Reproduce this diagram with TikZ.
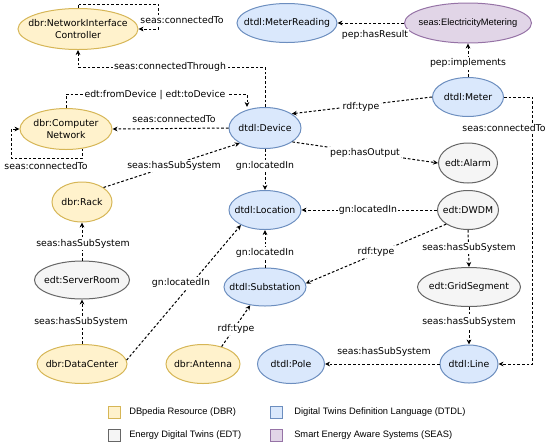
\documentclass[tikz,border=0pt]{standalone}
\usepackage{fontspec}
\setmainfont{DejaVu Sans}
\newfontfamily\arialfont{Liberation Sans}
\usetikzlibrary{shapes.geometric,arrows.meta,calc}
\definecolor{dbrfill}{HTML}{FFF2CC}
\definecolor{dbrdraw}{HTML}{D6B656}
\definecolor{dtdlfill}{HTML}{DAE8FC}
\definecolor{dtdldraw}{HTML}{6C8EBF}
\definecolor{edtfill}{HTML}{F5F5F5}
\definecolor{edtdraw}{HTML}{666666}
\definecolor{seasfill}{HTML}{E1D5E7}
\definecolor{seasdraw}{HTML}{9673A6}
\begin{document}
\begin{tikzpicture}[x=0.75pt,y=-0.75pt,
  nd/.style={ellipse, line width=0.75pt, inner xsep=-30pt, inner ysep=-10pt, align=center, font=\fontsize{7}{9}\selectfont},
  dbr/.style={nd, fill=dbrfill, draw=dbrdraw},
  dtdl/.style={nd, fill=dtdlfill, draw=dtdldraw},
  edt/.style={nd, fill=edtfill, draw=edtdraw},
  seas/.style={nd, fill=seasfill, draw=seasdraw},
  e/.style={draw=black, line width=0.75pt, dash pattern=on 2pt off 1.5pt, -{Stealth[length=3.75pt,width=3.5pt]}},
  lbl/.style={font=\fontsize{7}{9}\selectfont, fill=white, inner sep=1pt},
  sq/.style={rectangle, minimum size=9pt, inner sep=0pt, line width=0.75pt},
  leg/.style={font=\arialfont\fontsize{7}{9}\selectfont, inner sep=0pt, anchor=west}
]
\useasboundingbox (0,0) rectangle (550,444);

% nodes
\node[dbr, minimum width=90pt, minimum height=30.75pt] (nic) at (78,29) {dbr:NetworkInterface\\Controller};
\node[dtdl, minimum width=75pt, minimum height=29.25pt] (mr) at (287,23) {dtdl:MeterReading};
\node[seas, minimum width=95.25pt, minimum height=30pt, font=\arialfont\fontsize{7}{9}\selectfont] (em) at (468,23) {seas:ElectricityMetering};
\node[dtdl, minimum width=53.25pt, minimum height=29.25pt] (meter) at (468,97) {dtdl:Meter};
\node[dtdl, minimum width=54pt, minimum height=30.75pt] (device) at (265,128) {dtdl:Device};
\node[dbr, minimum width=69pt, minimum height=30.75pt] (cn) at (66,129) {dbr:Computer\\Network};
\node[edt, minimum width=44.25pt, minimum height=30pt] (alarm) at (468,163) {edt:Alarm};
\node[dbr, minimum width=45pt, minimum height=30pt] (rack) at (82,202) {dbr:Rack};
\node[dtdl, minimum width=54pt, minimum height=29.25pt] (loc) at (265,210) {dtdl:Location};
\node[edt, minimum width=45.75pt, minimum height=29.25pt] (dwdm) at (468,210) {edt:DWDM};
\node[edt, minimum width=71.25pt, minimum height=28.5pt] (sr) at (82,280) {edt:ServerRoom};
\node[dtdl, minimum width=61.5pt, minimum height=28.5pt] (sub) at (265,287) {dtdl:Substation};
\node[edt, minimum width=77.25pt, minimum height=29.25pt] (gs) at (469,287) {edt:GridSegment};
\node[dbr, minimum width=67.5pt, minimum height=29.25pt] (dc) at (82,364) {dbr:DataCenter};
\node[dbr, minimum width=55.5pt, minimum height=29.25pt] (ant) at (203,364) {dbr:Antenna};
\node[dtdl, minimum width=50.25pt, minimum height=29.25pt] (pole) at (291,364) {dtdl:Pole};
\node[dtdl, minimum width=43.5pt, minimum height=28.5pt] (line) at (469,364) {dtdl:Line};

% connectors
\draw[e] (nic.north) |- ($(nic.east)+(20,-25)$) |- (nic.east);
\draw[e] (device.north) |- ($(nic.south)+(0,17)$) -- (nic.south);
\draw[e] (cn.north) |- ($(device.north)+(-18,-13)$) -- ($(device.north)+(-18,0)$);
\draw[e] (device.west) -- (cn.east);
\draw[e] (cn.-50) |- (11,158) |- (cn.west);
\draw[e] (meter.north) -- (em.south);
\draw[e] (em.west) -- (mr.east);
\draw[e] (meter.west) -- (device.28);
\draw[e] (meter.east) -| ($(line.east)+(34,0)$) -- (line.east);
\draw[e] (device.-27) -- (alarm.west);
\draw[e] (device.south) -- (loc.north);
\draw[e] (rack.34) -- (device.211);
\draw[e] (dwdm.west) -- (loc.east);
\draw[e] (dwdm.213) -- (sub.5);
\draw[e] (dwdm.south) -- (gs.north);
\draw[e] (sub.north) -- (loc.south);
\draw[e] (sr.north) -- (rack.south);
\draw[e] (dc.north) -- (sr.south);
\draw[e] (dc.5) -- (loc.212);
\draw[e] (ant.43) -- (sub.231);
\draw[e] (gs.south) -- (line.north);
\draw[e] (line.west) -- (pole.east);

% labels
\node[lbl] (l1) at (182,20) {seas:connectedTo};
\node[lbl] (l2) at (170,67) {seas:connectedThrough};
\node[lbl] (l3) at (155,95) {edt:fromDevice | edt:toDevice};
\node[lbl] (l4) at (174,119) {seas:connectedTo};
\node[lbl] (l5) at (46,166) {seas:connectedTo};
\node[lbl] (l6) at (468,63) {pep:implements};
\node[lbl] (l7) at (375,35) {pep:hasResult};
\node[lbl] (l8) at (361,107) {rdf:type};
\node[lbl] (l9) at (504,128) {seas:connectedTo};
\node[lbl] (l10) at (365,153) {pep:hasOutput};
\node[lbl] (l11) at (265,166) {gn:locatedIn};
\node[lbl] (l12) at (174,166) {seas:hasSubSystem};
\node[lbl] (l13) at (368,210) {gn:locatedIn};
\node[lbl] (l14) at (376,252) {rdf:type};
\node[lbl] (l15) at (469,248) {seas:hasSubSystem};
\node[lbl] (l16) at (265,253) {gn:locatedIn};
\node[lbl] (l17) at (83,244) {seas:hasSubSystem};
\node[lbl] (l18) at (81,322) {seas:hasSubSystem};
\node[lbl] (l19) at (181,283) {gn:locatedIn};
\node[lbl] (l20) at (236,329) {rdf:type};
\node[lbl] (l21) at (469,322) {seas:hasSubSystem};
\node[lbl] (l22) at (384,352) {seas:hasSubSystem};

% legend
\node[sq, fill=dbrfill, draw=dbrdraw] (k1) at (114,412) {};
\node[leg] (t1) at (129,412) {DBpedia Resource (DBR)};
\node[sq, fill=edtfill, draw=edtdraw] (k2) at (114,435) {};
\node[leg] (t2) at (129,435) {Energy Digital Twins (EDT)};
\node[sq, fill=dtdlfill, draw=dtdldraw] (k3) at (276,412) {};
\node[leg] (t3) at (294,412) {Digital Twins Definition Language (DTDL)};
\node[sq, fill=seasfill, draw=seasdraw] (k4) at (276,435) {};
\node[leg] (t4) at (294,435) {Smart Energy Aware Systems (SEAS)};
\end{tikzpicture}
\end{document}
